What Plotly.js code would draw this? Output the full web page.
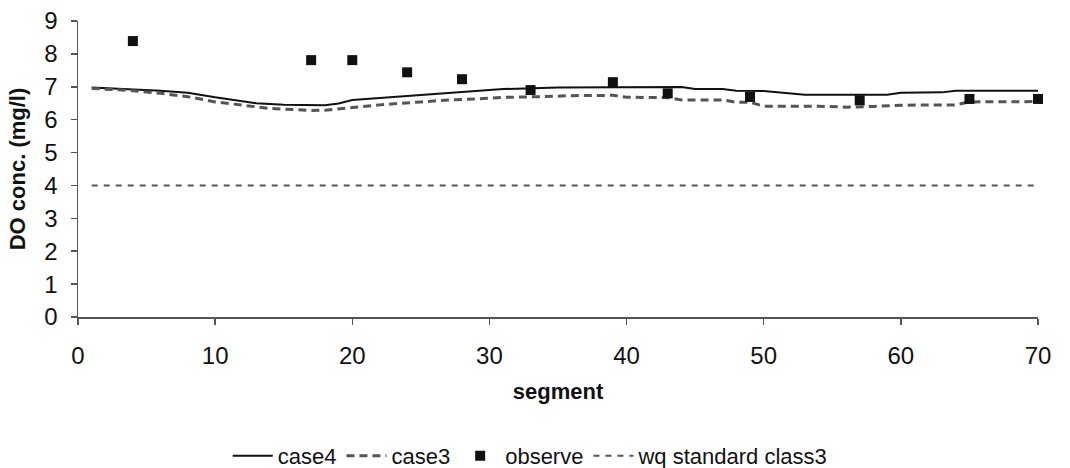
<!DOCTYPE html>
<html>
<head>
<meta charset="utf-8">
<script src="https://cdn.plot.ly/plotly-3.0.1.min.js"></script>
<style>
  html, body { margin: 0; padding: 0; background: #ffffff; }
  #chart { width: 1070px; height: 468px; }
</style>
</head>
<body>
<div id="chart"></div>
<script>
// case4 (solid) – segment / DO concentration
const case4Seg = [1, 4, 6, 8, 10, 13, 15, 18, 19, 20, 22, 25, 27, 29, 31, 35, 44, 45, 47, 48, 50, 53, 59, 60, 63, 64, 70];
const case4DO  = [6.98, 6.93, 6.88, 6.82, 6.68, 6.50, 6.45, 6.44, 6.49, 6.60, 6.66, 6.77, 6.82, 6.88, 6.93, 6.98, 6.99, 6.93, 6.93, 6.88, 6.87, 6.76, 6.76, 6.82, 6.83, 6.88, 6.88];

// case3 (dashed)
const case3Seg = [1, 4, 6, 8, 10, 12, 14, 16, 17, 18, 20, 22, 25, 27, 29, 31, 34, 36, 39, 40, 43, 44, 47, 48, 49, 50, 54, 56, 58, 60, 64, 65, 70];
const case3DO  = [6.95, 6.88, 6.80, 6.70, 6.54, 6.44, 6.34, 6.30, 6.28, 6.29, 6.37, 6.45, 6.54, 6.60, 6.63, 6.68, 6.70, 6.73, 6.74, 6.68, 6.67, 6.60, 6.60, 6.53, 6.53, 6.41, 6.41, 6.38, 6.40, 6.44, 6.45, 6.54, 6.55];

// observed points
const obsSeg = [4, 17, 20, 24, 28, 33, 39, 43, 49, 57, 65, 70];
const obsDO  = [8.39, 7.81, 7.81, 7.44, 7.23, 6.90, 7.14, 6.80, 6.69, 6.59, 6.63, 6.63];

// water quality standard class 3
const stdSeg = [1, 70];
const stdDO  = [4, 4];

const seriesNames = ["case4", "case3", "observe", "wq standard class3"];

const FONT = "Liberation Sans, Arial, sans-serif";

const traces = [
  {
    x: case4Seg, y: case4DO, name: seriesNames[0], type: "scatter", mode: "lines",
    line: { color: "#111111", width: 2 }
  },
  {
    x: case3Seg, y: case3DO, name: seriesNames[1], type: "scatter", mode: "lines",
    line: { color: "#555555", width: 3, dash: "8px,5px" }
  },
  {
    x: obsSeg, y: obsDO, name: seriesNames[2], type: "scatter", mode: "markers",
    marker: { symbol: "square", size: 10, color: "#111111" },
    cliponaxis: false
  },
  {
    x: stdSeg, y: stdDO, name: seriesNames[3], type: "scatter", mode: "lines",
    line: { color: "#555555", width: 2, dash: "6px,6px" }
  }
];

const layout = {
  width: 1070,
  height: 468,
  paper_bgcolor: "#ffffff",
  plot_bgcolor: "#ffffff",
  font: { family: FONT, size: 22, color: "#111111" },
  margin: { l: 78, r: 32, t: 21, b: 151 },
  showlegend: true,
  legend: {
    orientation: "h",
    xref: "container", yref: "container",
    x: 0.496, xanchor: "center",
    y: 0.026, yanchor: "middle",
    itemwidth: 40,
    font: { family: FONT, size: 22, color: "#111111" },
    bgcolor: "rgba(0,0,0,0)"
  },
  xaxis: {
    range: [0, 70],
    dtick: 10,
    tick0: 0,
    showgrid: false,
    zeroline: false,
    showline: true,
    linecolor: "#555555",
    linewidth: 1.5,
    ticks: "outside",
    ticklen: 6,
    tickcolor: "#555555",
    tickwidth: 1.5,
    ticklabelstandoff: 11,
    tickfont: { family: FONT, size: 24, color: "#111111" },
    title: {
      text: "<b>segment</b>",
      font: { family: FONT, size: 22, color: "#111111" },
      standoff: 15
    }
  },
  yaxis: {
    range: [0, 9],
    dtick: 1,
    tick0: 0,
    showgrid: false,
    zeroline: false,
    showline: true,
    linecolor: "#555555",
    linewidth: 1.5,
    ticks: "outside",
    ticklen: 6,
    tickcolor: "#555555",
    tickwidth: 1.5,
    ticklabelstandoff: 8,
    tickfont: { family: FONT, size: 24, color: "#111111" },
    title: {
      text: "<b>DO conc. (mg/l)</b>",
      font: { family: FONT, size: 22, color: "#111111" },
      standoff: 12
    }
  }
};

Plotly.newPlot("chart", traces, layout, { displayModeBar: false, responsive: false, staticPlot: true });
</script>
</body>
</html>
